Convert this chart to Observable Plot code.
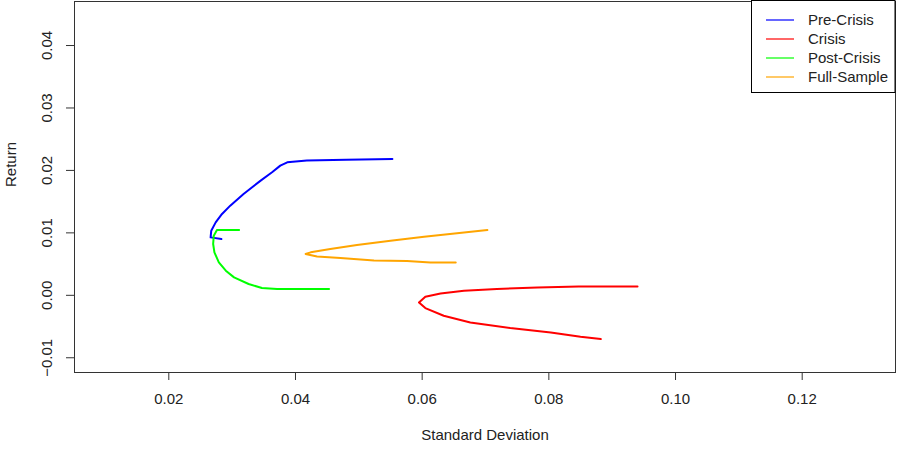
<!DOCTYPE html>
<html>
<head>
<meta charset="utf-8">
<script src="https://cdn.jsdelivr.net/npm/d3@7"></script>
<script src="https://cdn.jsdelivr.net/npm/@observablehq/plot@0.6"></script>
<style>
  html, body { margin: 0; padding: 0; background: #fff; }
  svg { font-family: "Liberation Sans", Arial, sans-serif; }
</style>
</head>
<body>
<div id="chart"></div>
<script>
// Series names and colours
const seriesNames = ["Pre-Crisis", "Crisis", "Post-Crisis", "Full-Sample"];
const seriesColors = ["blue", "red", "#00ff00", "orange"];

// Pre-Crisis frontier (standard deviation, return)
const preSd  = [0.0283, 0.0266, 0.0267, 0.0274, 0.0284, 0.0297, 0.0318, 0.0345, 0.0363, 0.0376, 0.0387, 0.0418, 0.0480, 0.0553];
const preRet = [0.00902, 0.00928, 0.01035, 0.01168, 0.01303, 0.01436, 0.01623, 0.01837, 0.0197, 0.02077, 0.0213, 0.02157, 0.02172, 0.02184];

// Crisis frontier
const crisisSd  = [0.0882, 0.0850, 0.0803, 0.0739, 0.0676, 0.0634, 0.0605, 0.0595, 0.0605, 0.0629, 0.0666, 0.0718, 0.0782, 0.0847, 0.0940];
const crisisRet = [-0.0070, -0.00663, -0.00595, -0.00524, -0.00434, -0.00327, -0.00204, -0.00114, -0.00022, 0.0003, 0.00074, 0.00101, 0.00127, 0.00143, 0.00143];

// Post-Crisis frontier
const postSd  = [0.0311, 0.0276, 0.0271, 0.0270, 0.0272, 0.0279, 0.0290, 0.0303, 0.0326, 0.0347, 0.0371, 0.0453];
const postRet = [0.01046, 0.01046, 0.00955, 0.00822, 0.00688, 0.00527, 0.00394, 0.00287, 0.00181, 0.00117, 0.00101, 0.00101];

// Full-Sample frontier
const fullSd  = [0.0653, 0.0613, 0.0576, 0.0524, 0.0471, 0.0434, 0.0416, 0.0424, 0.0455, 0.0497, 0.0550, 0.0603, 0.0655, 0.0703];
const fullRet = [0.00527, 0.00527, 0.0055, 0.00559, 0.00598, 0.00623, 0.00662, 0.00688, 0.00742, 0.00806, 0.00875, 0.00939, 0.00992, 0.01046];

// Axis ticks
const xTicks = [0.02, 0.04, 0.06, 0.08, 0.10, 0.12];
const yTicks = [-0.01, 0.00, 0.01, 0.02, 0.03, 0.04];

const sds  = [preSd, crisisSd, postSd, fullSd];
const rets = [preRet, crisisRet, postRet, fullRet];
const rows = [];
seriesNames.forEach((name, i) => {
  sds[i].forEach((sd, j) => rows.push({series: name, sd, ret: rets[i][j], order: j}));
});

const fmt = d3.format(".2f");
const W = 899, H = 454;
const ml = 74, mr = 4, mt = 1, mb = 82;

const plot = Plot.plot({
  width: W,
  height: H,
  marginLeft: ml,
  marginRight: mr,
  marginTop: mt,
  marginBottom: mb,
  style: {fontFamily: '"Liberation Sans", Arial, sans-serif', fontSize: "15px", color: "#000", background: "#fff"},
  x: {domain: [0.00511, 0.13473]},
  y: {domain: [-0.01236, 0.04705]},
  color: {domain: seriesNames, range: seriesColors},
  marks: [
    Plot.line(rows, {x: "sd", y: "ret", z: "series", stroke: "series", strokeWidth: 2, curve: "linear", sort: null}),
    Plot.frame({stroke: "#333", strokeWidth: 1}),
    Plot.axisX({ticks: xTicks, tickSize: 8, tickPadding: 13, tickFormat: fmt, label: null, stroke: "#333", fill: "#222", fontSize: 15}),
    Plot.axisY({ticks: yTicks, tickSize: 8, tickPadding: 15, tickRotate: -90, tickFormat: fmt, label: null, stroke: "#333", fill: "#222", fontSize: 15}),
    Plot.text(["Standard Deviation"], {frameAnchor: "bottom", dy: 67, fill: "#222", fontSize: 15}),
    Plot.text(["Return"], {frameAnchor: "left", dx: -63, rotate: -90, fill: "#222", fontSize: 15})
  ]
});

document.getElementById("chart").appendChild(plot);

// Legend box inside plot (top-right)
const svg = d3.select(plot);
const lg = svg.append("g").attr("class", "legend").attr("text-anchor", "start");
const bx0 = 751.5, bx1 = 895, by0 = 0.5, by1 = 92.5;
lg.append("rect").attr("x", bx0).attr("y", by0).attr("width", bx1 - bx0).attr("height", by1 - by0)
  .attr("fill", "#fff").attr("stroke", "#000").attr("stroke-width", 1);
seriesNames.forEach((name, i) => {
  const yy = 20 + i * 19;
  lg.append("line").attr("x1", 766).attr("x2", 794).attr("y1", yy).attr("y2", yy)
    .attr("stroke", seriesColors[i]).attr("stroke-width", 1.2);
  lg.append("text").attr("x", 808).attr("y", yy).attr("dy", "0.36em")
    .attr("text-anchor", "start").attr("font-size", 15).attr("fill", "#222").text(name);
});
</script>
</body>
</html>
